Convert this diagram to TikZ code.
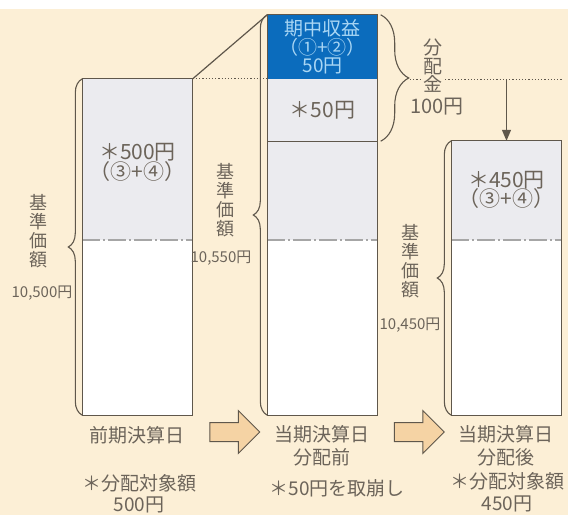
\documentclass[tikz,border=0pt]{standalone}
\usepackage{fontspec}
\setmainfont{Noto Sans CJK JP}
\usetikzlibrary{decorations.pathreplacing,shapes.arrows,arrows.meta}

\definecolor{bgcream}{HTML}{FCEFD6}
\definecolor{barg}{HTML}{EBEBEF}
\definecolor{kblue}{HTML}{0B6CBD}
\definecolor{kbluet}{HTML}{A9D6F4}
\definecolor{linec}{HTML}{5F574B}
\definecolor{txtc}{HTML}{6C645A}
\definecolor{arrowf}{HTML}{F5D3A4}

\begin{document}
\begin{tikzpicture}[x=1pt,y=-1pt,
  barbox/.style={rectangle, inner sep=0pt, minimum width=110pt},
  graybox/.style={barbox, fill=barg},
  whitebox/.style={barbox, fill=white},
  outl/.style={draw=linec, line width=1.3pt},
  midline/.style={draw=gray!70, line width=1.4pt, dash pattern=on 18pt off 3pt on 2pt off 3pt},
  dotl/.style={draw=linec, line width=0.9pt, dash pattern=on 1.2pt off 2pt},
  bracel/.style={draw=linec, line width=1.1pt, decorate, decoration={brace, amplitude=#1}},
  txt/.style={text=txtc, inner sep=1pt, align=center},
  bigtxt/.style={txt, font=\fontsize{21}{21}\selectfont},
  smalltxt/.style={txt, font=\fontsize{21}{21}\selectfont},
  vtxt/.style={txt, font=\fontsize{18}{19}\selectfont},
  yentxt/.style={txt, font=\fontsize{15}{15}\selectfont},
  labtxt/.style={txt, font=\fontsize{19}{23}\selectfont},
  fatarrow/.style={single arrow, draw=linec, line width=1pt, fill=arrowf, minimum height=50pt, inner sep=9pt, single arrow head extend=12pt}
]

\useasboundingbox (0,0) rectangle (568,515);
\fill[white] (0,0) rectangle (568,9);
\fill[bgcream] (0,9) rectangle (568,515);

\node (g1) at (137.5,159.5) [graybox, minimum height=161pt] {};
\node (w1) at (137.5,327.5) [whitebox, minimum height=175pt] {};

\node (q2) at (322.5,47) [barbox, fill=kblue, minimum height=64pt] {};
\node (g2) at (322.5,110) [graybox, minimum height=62pt] {};
\node (h2) at (322.5,190.5) [graybox, minimum height=99pt] {};
\node (w2) at (322.5,327.5) [whitebox, minimum height=175pt] {};

\node (g3) at (506.5,190.5) [graybox, minimum height=99pt] {};
\node (w3) at (506.5,327.5) [whitebox, minimum height=175pt] {};

\draw[midline] (w1.north west) -- (w1.north east);
\draw[midline] (w2.north west) -- (w2.north east);
\draw[midline] (w3.north west) -- (w3.north east);
\draw[outl, line width=1pt] (g2.south west) -- (g2.south east);

\draw[outl] (g1.north west) rectangle (w1.south east);
\draw[outl] (q2.north west) rectangle (w2.south east);
\draw[outl] (g3.north west) rectangle (w3.south east);

\draw[linec, line width=1.2pt] (g1.north east) -- (q2.north west);
\draw[dotl] (g1.north east) -- (g2.north west);
\coordinate (bt) at (410,79);
\coordinate (de) at (561.5,79);
\draw[dotl] (bt) -- (de);
\coordinate (da) at (506.5,79);
\draw[linec, line width=1.1pt, -{Triangle[length=11pt,width=9pt]}] (da) -- (g3.north);

\draw[bracel=14pt] (w1.south west) -- (g1.north west);
\draw[bracel=14pt] (w2.south west) -- (q2.north west);
\draw[bracel=14pt] (w3.south west) -- (g3.north west);
\draw[bracel=28pt] ([xshift=3pt]q2.north east) -- ([xshift=3pt]g2.south east);

\node (t1) at (137.5,152) [bigtxt] {＊500円};
\node (p1) at (137.5,172) [smalltxt] {（③+④）};
\node (t2) at (322.5,28) [bigtxt, font=\fontsize{19}{19}\selectfont, text=kbluet] {期中収益};
\node (p2) at (322.5,47) [smalltxt, font=\fontsize{19}{19}\selectfont, text=kbluet] {（①+②）};
\node (m2) at (322.5,66) [bigtxt, font=\fontsize{19}{19}\selectfont, text=kbluet] {50円};
\node (r2) at (322.5,110) [bigtxt] {＊50円};
\node (t3) at (506.5,180) [bigtxt] {＊450円};
\node (p3) at (506.5,199) [smalltxt] {（③+④）};

\node (k1) at (38,231) [vtxt] {基\\準\\価\\額};
\node (y1) at (42,293) [yentxt] {10,500円};
\node (k2) at (225,200) [vtxt] {基\\準\\価\\額};
\node (y2) at (221,258) [yentxt] {10,550円};
\node (k3) at (410,261) [vtxt] {基\\準\\価\\額};
\node (y3) at (410,325) [yentxt] {10,450円};

\node (hk) at (433,66) [vtxt, fill=bgcream, font=\fontsize{19}{18.5}\selectfont] {分\\配\\金};
\node (hy) at (437,107) [bigtxt, font=\fontsize{20}{20}\selectfont] {100円};

\node (l1) at (137,435) [labtxt] {前期決算日};
\node (l2) at (322,446) [labtxt] {当期決算日\\分配前};
\node (l3) at (506,446) [labtxt] {当期決算日\\分配後};
\node (n1) at (139,494) [labtxt, font=\fontsize{19}{21}\selectfont] {＊分配対象額\\500円};
\node (n2) at (337,488) [labtxt] {＊50円を取崩し};
\node (n3) at (507,492) [labtxt, font=\fontsize{19}{22}\selectfont] {＊分配対象額\\450円};

\node (f1) at (230,432) [fatarrow] {};
\node (f2) at (414.5,432) [fatarrow] {};

\end{tikzpicture}
\end{document}
